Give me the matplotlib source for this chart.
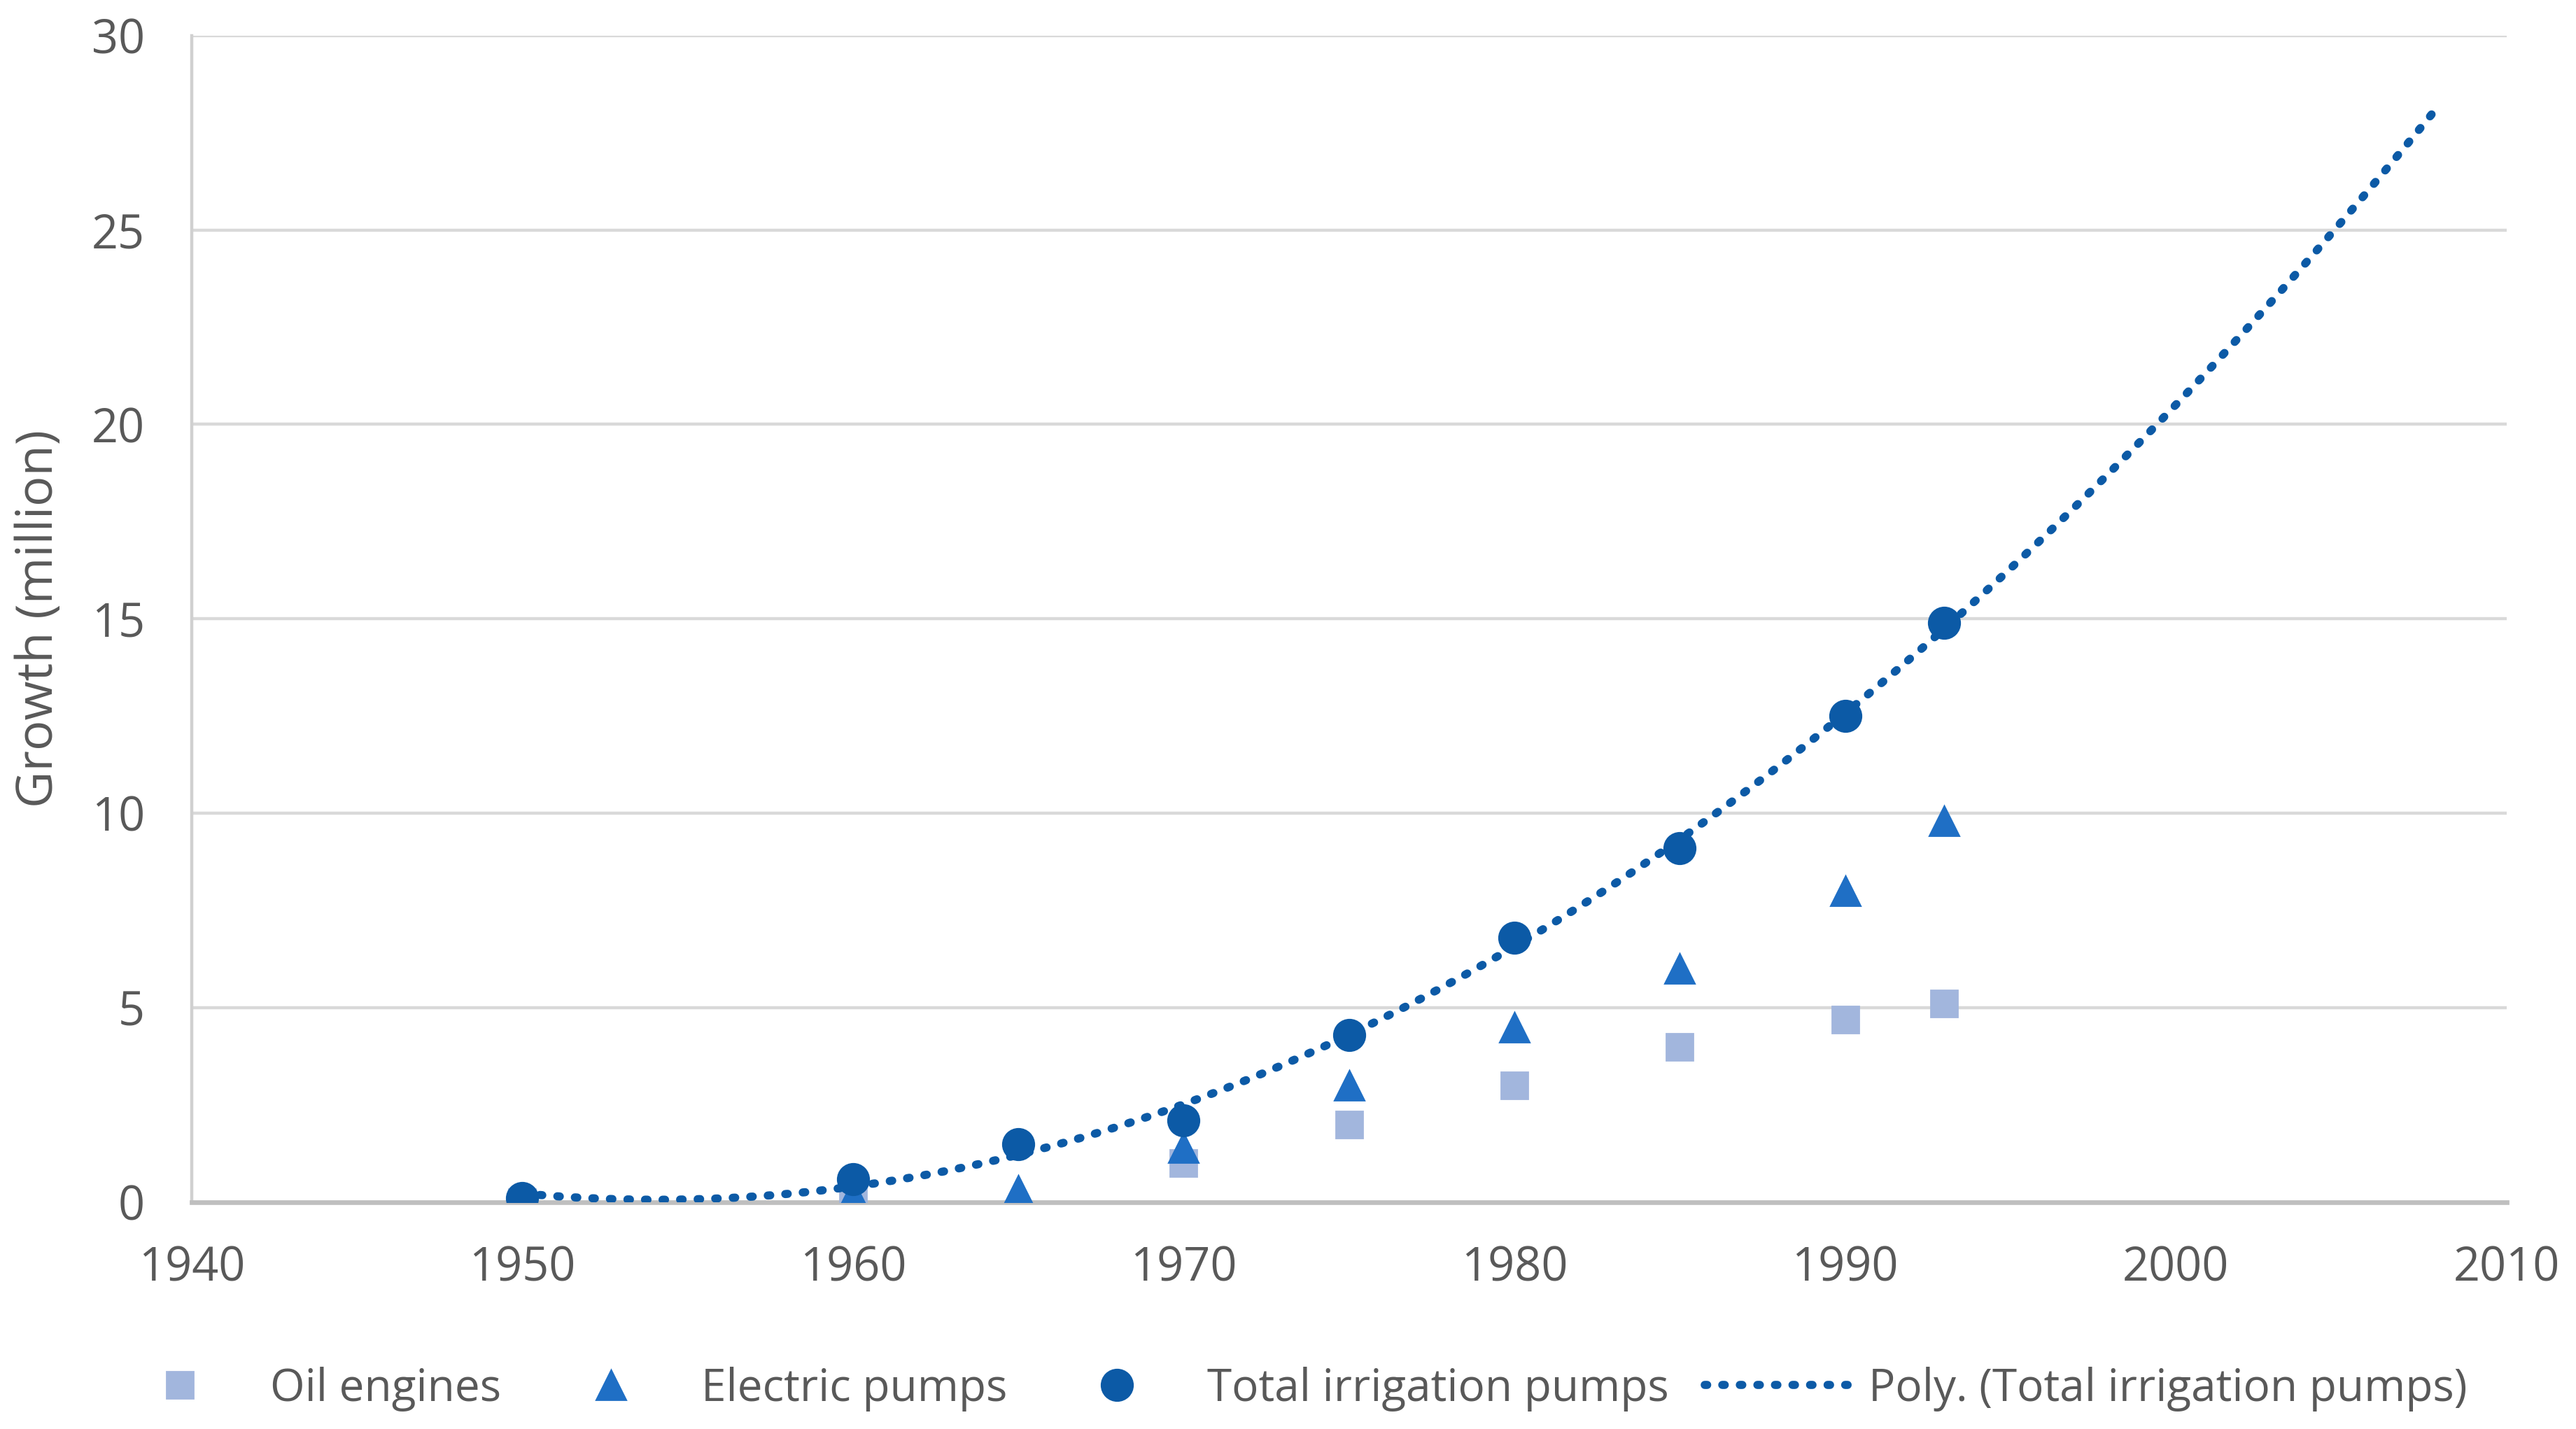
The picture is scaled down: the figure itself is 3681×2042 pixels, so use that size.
import numpy as np
import matplotlib.pyplot as plt

# data (million pumps); no visible oil engine mark in 1965
years = [1950, 1960, 1965, 1970, 1975, 1980, 1985, 1990, 1993]
oil_engines = [0.0, 0.1, np.nan, 1.0, 2.0, 3.0, 4.0, 4.7, 5.1]
electric_pumps = [0.0, 0.2, 0.3, 1.4, 3.0, 4.5, 6.0, 8.0, 9.8]
total_pumps = [0.1, 0.6, 1.5, 2.1, 4.3, 6.8, 9.1, 12.5, 14.9]
trend_end = 2008

x_ticks = [1940, 1950, 1960, 1970, 1980, 1990, 2000, 2010]
y_ticks = [0, 5, 10, 15, 20, 25, 30]

plt.rcParams["font.family"] = ["Open Sans", "DejaVu Sans"]
text_col = "#595959"

fig = plt.figure(figsize=(18.405, 10.21), dpi=200)
ax = fig.add_axes([0.0744, 0.1587, 0.8986, 0.8165])

# polynomial trendline (order 2) fitted on the total series
coef = np.polyfit(years, total_pumps, 2)
tx = np.linspace(years[0], trend_end, 300)
ty = np.polyval(coef, tx)

ax.plot(years, oil_engines, "s", color="#a2b6dd", markersize=14, linestyle="none",
        label="Oil engines", zorder=3)
ax.plot(years, electric_pumps, "^", color="#1f6fc5", markersize=15, linestyle="none",
        label="Electric pumps", zorder=3)
ax.plot(years, total_pumps, "o", color="#0c5aa6", markersize=16, linestyle="none",
        label="Total irrigation pumps", zorder=4)
ax.plot(tx, ty, color="#0c5aa6", linewidth=4.2, linestyle=(0, (0.3, 1.85)),
        dash_capstyle="round", label="Poly. (Total irrigation pumps)", zorder=5)

ax.set_xlim(1940, 2010)
ax.set_ylim(0, 30)
ax.set_xticks(x_ticks)
ax.set_yticks(y_ticks)
ax.grid(axis="y", color="#d9d9d9", linewidth=1.6)
ax.set_axisbelow(True)
for s in ["top", "right"]:
    ax.spines[s].set_visible(False)
ax.spines["left"].set_color("#d0d0d0")
ax.spines["left"].set_linewidth(1.6)
ax.spines["bottom"].set_color("#bfbfbf")
ax.spines["bottom"].set_linewidth(2.4)
ax.tick_params(axis="both", length=0, labelsize=24, colors=text_col)
ax.tick_params(axis="x", pad=22)
ax.tick_params(axis="y", pad=24)
ax.set_ylabel("Growth (million)", fontsize=26, color=text_col)
ax.yaxis.set_label_coords(-0.055, 0.5)

fig.legend(loc="center", bbox_to_anchor=(0.4995, 0.028), ncol=4, frameon=False,
           fontsize=23, labelcolor=text_col, handlelength=3.3, columnspacing=0.8,
           handletextpad=0.37)

fig.savefig("out.png", dpi=200, facecolor="white")
